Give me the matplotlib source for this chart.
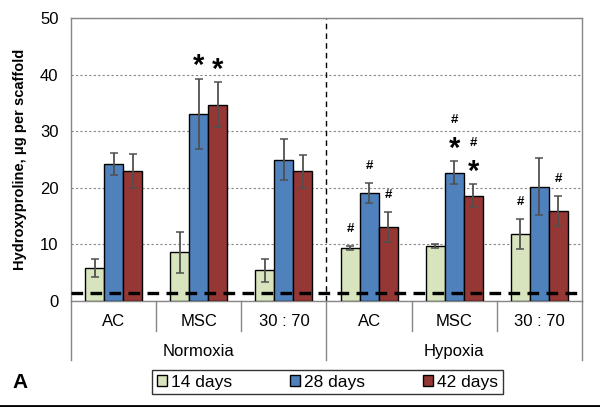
import matplotlib.pyplot as plt
from matplotlib.lines import Line2D
import numpy as np

plt.rcParams['font.family'] = ['Liberation Sans', 'DejaVu Sans']

# data
conditions = ["Normoxia", "Hypoxia"]
groups = ["AC", "MSC", "30 : 70", "AC", "MSC", "30 : 70"]
series = ["14 days", "28 days", "42 days"]
colors = ["#d7e4bd", "#4f81bd", "#953735"]

vals_14 = [5.8, 8.6, 5.4, 9.4, 9.7, 11.8]
err_14 = [1.6, 3.6, 2.0, 0.4, 0.4, 2.7]
vals_28 = [24.2, 33.1, 25.0, 19.1, 22.7, 20.2]
err_28 = [1.9, 6.2, 3.7, 1.7, 2.0, 5.0]
vals_42 = [23.0, 34.7, 22.9, 13.1, 18.6, 15.9]
err_42 = [3.0, 4.0, 2.9, 2.6, 2.0, 2.7]

baseline = 1.5

# significance marks: (group index, series index, symbols from bottom to top)
marks = [
    (1, 1, ["*"]), (1, 2, ["*"]),
    (3, 0, ["#"]), (3, 1, ["#"]), (3, 2, ["#"]),
    (4, 1, ["*", "#"]), (4, 2, ["*", "#"]),
    (5, 0, ["#"]), (5, 2, ["#"]),
]

values = [vals_14, vals_28, vals_42]
errors = [err_14, err_28, err_42]

fig = plt.figure(figsize=(6, 4.07), dpi=100)
ax = fig.add_axes([71 / 600, 106 / 407, 511 / 600, 283 / 407])

x = np.arange(len(groups))
w = 0.223
for k in range(3):
    ax.bar(x + (k - 1) * w, values[k], w, color=colors[k], edgecolor="black",
           linewidth=1, label=series[k], zorder=3)
    ax.errorbar(x + (k - 1) * w, values[k], yerr=errors[k], fmt="none",
                ecolor="#505050", elinewidth=1.3, capsize=3, capthick=1.1, zorder=4)

for g, s, syms in marks:
    top = values[s][g] + errors[s][g]
    for j, sym in enumerate(syms):
        yy = top + 3.0 + 4.3 * j
        if sym == "*":
            ax.text(x[g] + (s - 1) * w, yy - 0.8, sym, ha="center", va="center",
                    fontsize=21, fontweight="bold", zorder=5)
        else:
            ax.text(x[g] + (s - 1) * w, yy, sym, ha="center", va="center",
                    fontsize=9.5, fontweight="bold", zorder=5)

ax.axhline(baseline, color="black", lw=2.4, linestyle=(0, (3.5, 2.2)), zorder=6)
ax.axvline(2.5, color="black", lw=1, linestyle=(0, (4, 3)), zorder=2)

ax.set_xlim(-0.5, 5.5)
ax.set_ylim(0, 50)
ax.set_yticks([0, 10, 20, 30, 40, 50])
ax.yaxis.grid(True, color="#868686", lw=0.8, linestyle=(0, (2, 2)))
ax.set_axisbelow(True)
ax.set_xticks([])
ax.tick_params(axis="y", length=0, pad=9, labelsize=12)
for sp in ax.spines.values():
    sp.set_color("#868686")
    sp.set_linewidth(1)

ax.set_ylabel("Hydroxyproline, \u03bcg per scaffold", fontsize=10.5,
              fontweight="bold", labelpad=9)

# category axis below
tr = ax.get_xaxis_transform()
for i, g in enumerate(groups):
    ax.text(x[i], -0.072, g, transform=tr, ha="center", va="center", fontsize=12)
for i, c in enumerate(conditions):
    ax.text(1 + 3 * i, -0.178, c, transform=tr, ha="center", va="center", fontsize=12)
for b in [0.5, 1.5, 3.5, 4.5]:
    ax.add_line(Line2D([b, b], [0, -0.106], transform=tr, color="#868686",
                       lw=1, clip_on=False))
for b in [-0.5, 2.5, 5.5]:
    ax.add_line(Line2D([b, b], [0, -0.21], transform=tr, color="#868686",
                       lw=1, clip_on=False))

leg = fig.legend(loc="center", bbox_to_anchor=(327.5 / 600, 25 / 407), ncol=3,
                 fontsize=12.5, frameon=True, fancybox=False, edgecolor="black",
                 handlelength=0.6, handleheight=0.6, handletextpad=0.25,
                 columnspacing=3.3, borderpad=0.25, borderaxespad=0)
leg.get_frame().set_linewidth(1)

fig.text(20 / 600, 24 / 407, "A", fontsize=15, fontweight="bold",
         ha="center", va="center")
fig.add_artist(Line2D([0, 1], [1.5 / 407, 1.5 / 407], color="black", lw=2))

fig.savefig("out.png", dpi=100)
